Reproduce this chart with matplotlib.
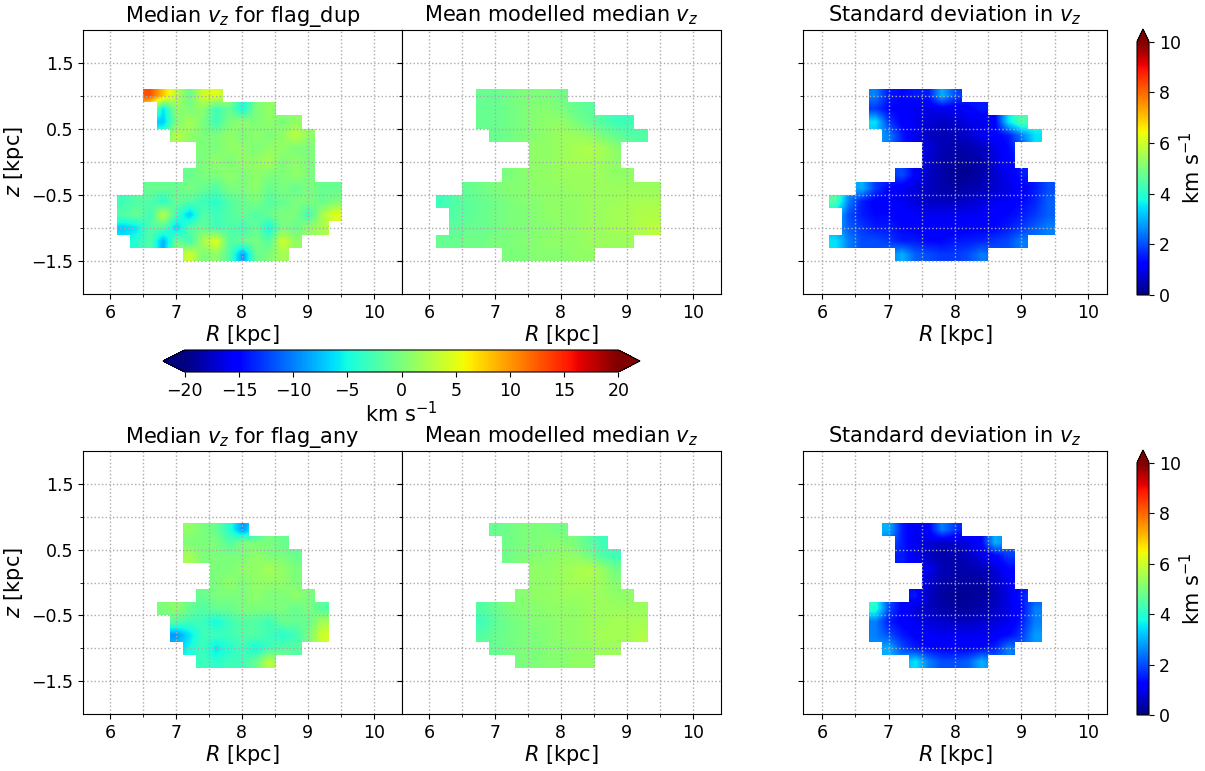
import numpy as np
import matplotlib.pyplot as plt

# bin edges of the (R, z) maps, 0.2 kpc bins
R_edges = np.linspace(6.1, 9.5, 18)
z_edges = np.linspace(-1.5, 1.1, 14)

# each map: rows from top (z = 1.0) to bottom (z = -1.4); (first R bin, values) or None
vz_dup = [
    (2, [13, 8, 3, -1, 4, 5]),
    (3, [-6, 1, 0, 1, -3, -1, -5, 0, 1]),
    (3, [-7, 0, 2, 0, -3, 0, 1, 0, 1, 0, 1]),
    (4, [3, 1, 0, 0, 1, 0, 1, 0, 1, 3, 1]),
    (6, [0, 0, 1, 1, 0, 1, 1, 0, 0]),
    (6, [0, 1, 0, 1, 1, 2, 0, 1, 0]),
    (5, [-1, 0, 0, 1, 0, 1, 0, 0, 1, 0]),
    (2, [-1, -1, -1, 0, -1, -2, 0, 0, 1, -1, 0, -1, 0, -1, -1]),
    (0, [-3, -2, -2, -4, -1, -2, -3, -4, -2, -1, 0, -2, -1, 0, 0, -1, 0]),
    (0, [-2, -1, -3, 3, -3, -7, -2, -3, -2, -1, -2, -1, 0, 0, -3, 2, 5]),
    (0, [-7, -6, -2, -2, -7, -2, -1, -3, -2, -3, -1, -5, 0, -1, 1, 2]),
    (1, [-4, -2, -8, -1, -3, 2, 5, -2, -1, 0, -2, 4, 1]),
    (5, [4, 0, 1, -2, -9, -1, 0, 2]),
]
model_dup = [
    (3, [-1, -1, -0.5, 0, 0, 0, -0.5]),
    (3, [-1, -1, -0.5, 0, 0.5, 0.5, 0, -1, -1.5]),
    (3, [-1, -1, -0.5, 0, 0.5, 1, 1, 0, -1, -2, -3, -3]),
    (4, [-1, -0.5, 0, 0.5, 1, 1.5, 1.5, 1, 0, -1, -2, -2]),
    (7, [1, 1, 1.5, 2, 2.5, 2, 1]),
    (7, [1, 1, 1.5, 2, 2, 1.5, 1]),
    (5, [0, 0.5, 1, 1, 1.5, 1.5, 1.5, 1.5, 1, 1]),
    (2, [-1, -0.5, 0, 0.5, 0.5, 1, 1, 1, 1.5, 1.5, 1.5, 1.5, 1.5, 1.5, 1.5]),
    (0, [-3, -2, -1.5, -1, -0.5, 0, 0.5, 0.5, 1, 1, 1, 1.5, 1.5, 1.5, 2, 2, 2]),
    (1, [-2, -1.5, -1, -0.5, 0, 0, 0.5, 1, 1, 1, 1.5, 1.5, 2, 2, 2.5, 2.5]),
    (1, [-1.5, -1, -1, -0.5, 0, 0, 0.5, 0.5, 1, 1, 1.5, 1.5, 2, 2, 2.5, 3]),
    (0, [-1, -1, -0.5, -0.5, 0, 0, 0.5, 0.5, 1, 1, 1, 1.5, 1.5, 1.5, 1.5]),
    (5, [0, 0, 0.5, 0.5, 0.5, 1, 1]),
]
std_dup = [
    (3, [2.5, 1.5, 1.3, 1.5, 1.5, 3, 2]),
    (3, [1.8, 1.3, 1.2, 1.0, 0.9, 1.0, 1.0, 1.2, 1.5]),
    (3, [3.5, 1.8, 1.2, 1.0, 0.8, 0.6, 0.7, 0.9, 1.0, 1.2, 3.5, 4.5]),
    (4, [2.5, 1.5, 1.0, 0.6, 0.5, 0.5, 0.7, 1.0, 1.2, 1.5, 2.5, 3.5]),
    (7, [0.8, 0.5, 0.4, 0.4, 0.6, 0.9, 1.3]),
    (7, [0.7, 0.4, 0.3, 0.3, 0.4, 0.8, 1.3]),
    (5, [2, 1.2, 0.6, 0.4, 0.2, 0.2, 0.4, 0.7, 1.0, 1.5]),
    (2, [3, 1.8, 1.3, 1.0, 0.8, 0.6, 0.4, 0.3, 0.4, 0.5, 0.7, 0.9, 1.1, 1.5, 2]),
    (0, [4.5, 2.5, 1.5, 1.2, 1.1, 1.0, 0.8, 0.6, 0.6, 0.6, 0.7, 0.8, 1.0, 1.1, 1.3, 1.6, 2.2]),
    (1, [2, 1.5, 1.3, 1.3, 1.2, 1.1, 1.0, 1.0, 1.0, 1.0, 1.1, 1.2, 1.3, 1.5, 1.8, 2.2]),
    (1, [2.2, 1.8, 1.5, 1.5, 1.3, 1.2, 1.2, 1.1, 1.1, 1.2, 1.2, 1.3, 1.5, 1.8, 2.2, 2.5]),
    (0, [3.5, 2.5, 2.0, 2.0, 1.8, 1.5, 1.5, 1.3, 1.3, 1.5, 1.5, 1.6, 1.8, 2.0, 2.5]),
    (5, [3, 2.2, 2.0, 1.8, 1.8, 2.0, 2.5]),
]
vz_any = [
    None,
    (5, [1, 0, -1, -4, -9]),
    (5, [0, 0, 0, -2, 0, 0, 0, -1]),
    (5, [2, 0, 0, 0, 0, 1, 0, 0, -1]),
    (7, [0, 0, 1, 1, 2, 1, 0]),
    (7, [0, 1, 0, 1, 1, 1, 0]),
    (6, [-1, 0, 0, 0, 1, 0, 0, 1, 0]),
    (3, [0, 1, -1, -2, -1, -1, 0, 0, 0, 0, -1, 0, -2]),
    (4, [-2, -3, -3, -5, -3, -2, -2, -3, -1, -1, -1, 2]),
    (4, [-9, -6, -3, -3, -3, -2, -2, -3, -4, -3, 0, 4]),
    (5, [-5, -3, -6, -4, -3, -5, -3, -2, -2]),
    (6, [-3, -4, -3, -3, -1, 3]),
    None,
]
model_any = [
    None,
    (4, [-1, -0.5, 0, 0, 0, -0.5]),
    (5, [-0.5, 0, 0, 0.5, 0.5, 0, -1.5, -3]),
    (5, [-0.5, 0, 0.5, 0.5, 1, 1, 0, -2, -3]),
    (7, [1, 1, 1.5, 2, 2.5, 1.5, -0.5]),
    (7, [1, 1, 1.5, 2, 2, 1.5, 0.5]),
    (6, [0.5, 1, 1, 1.5, 1.5, 1.5, 1.5, 1, 1]),
    (3, [-2, -1, 0, 0.5, 0.5, 1, 1, 1, 1.5, 1.5, 1.5, 1.5, 1.5]),
    (3, [-3, -1.5, -0.5, 0, 0.5, 0.5, 1, 1, 1.5, 1.5, 2, 2, 2]),
    (3, [-2, -1, -0.5, 0, 0, 0.5, 1, 1, 1.5, 2, 2, 2, 2.5]),
    (4, [-1, -0.5, 0, 0, 0.5, 0.5, 1, 1, 1.5, 1.5]),
    (6, [0, 0, 0.5, 0.5, 1, 1]),
    None,
]
std_any = [
    None,
    (4, [3, 1.5, 1.0, 1.2, 2.5, 1.8]),
    (5, [1.5, 1.0, 0.8, 0.6, 0.7, 0.9, 1.3, 3.0]),
    (5, [1.5, 1.0, 0.6, 0.4, 0.4, 0.6, 0.9, 1.2, 1.8]),
    (7, [1.0, 0.5, 0.4, 0.4, 0.5, 0.8, 1.3]),
    (7, [0.7, 0.4, 0.3, 0.3, 0.3, 0.6, 1.0]),
    (6, [1.5, 0.6, 0.3, 0.2, 0.2, 0.3, 0.5, 0.9, 1.5]),
    (3, [4, 2, 1.2, 0.8, 0.6, 0.4, 0.3, 0.3, 0.4, 0.6, 0.9, 1.3, 2.5]),
    (3, [2.5, 1.5, 1.2, 1.0, 0.8, 0.7, 0.6, 0.6, 0.7, 0.8, 1.0, 1.5, 2.5]),
    (3, [2.5, 2.0, 1.5, 1.2, 1.1, 1.0, 1.0, 1.0, 1.0, 1.1, 1.3, 1.8, 2.8]),
    (4, [3, 2.0, 1.5, 1.3, 1.2, 1.2, 1.2, 1.3, 1.6, 2.5]),
    (6, [3.5, 2.5, 2.0, 2.0, 2.2, 3.0]),
    None,
]

titles = ['Median $v_z$ for flag_dup', 'Mean modelled median $v_z$',
          'Standard deviation in $v_z$', 'Median $v_z$ for flag_any',
          'Mean modelled median $v_z$', 'Standard deviation in $v_z$']


def to_grid(rows):
    g = np.full((len(z_edges) - 1, len(R_edges) - 1), np.nan)
    for i, row in enumerate(rows):
        if row is None:
            continue
        j0, vals = row
        g[i, j0:j0 + len(vals)] = vals
    return g


def fill_empty(g):
    # pad empty bins with their neighbours so the smoothing has no holes
    f = g.copy()
    while np.isnan(f).any():
        p = np.pad(f, 1, constant_values=np.nan)
        nb = np.stack([p[:-2, 1:-1], p[2:, 1:-1], p[1:-1, :-2], p[1:-1, 2:]])
        cnt = (~np.isnan(nb)).sum(0)
        mean = np.nansum(nb, 0) / np.maximum(cnt, 1)
        upd = np.isnan(f) & (cnt > 0)
        f[upd] = mean[upd]
    return f


def draw_map(ax, rows, vmin, vmax):
    g = to_grid(rows)
    ext = (R_edges[0], R_edges[-1], z_edges[0], z_edges[-1])
    im = ax.imshow(fill_empty(g), cmap='jet', vmin=vmin, vmax=vmax, extent=ext,
                   origin='upper', interpolation='bilinear', aspect='auto', zorder=0)
    cover = np.zeros(g.shape + (4,))
    cover[np.isnan(g)] = (1, 1, 1, 1)
    ax.imshow(cover, extent=ext, origin='upper', interpolation='nearest',
              aspect='auto', zorder=0.5)
    return im


def style(ax, xlim, left=False):
    ax.set_xlim(*xlim)
    ax.set_ylim(-2, 2)
    ax.set_xticks([6, 7, 8, 9, 10])
    ax.set_xticks([6.5, 7.5, 8.5, 9.5], minor=True)
    ax.set_yticks([-1.5, -0.5, 0.5, 1.5])
    ax.set_yticks([-1, 0, 1], minor=True)
    ax.grid(True, which='both', ls=':', color='#aaaaaa', lw=1)
    ax.tick_params(labelsize=12.5)
    ax.tick_params(labelleft=left)
    ax.set_xlabel('$R$ [kpc]', fontsize=15, labelpad=1)
    if left:
        ax.set_ylabel('$z$ [kpc]', fontsize=15)


W, H = 1205, 771
fig = plt.figure(figsize=(W / 100, H / 100), dpi=100)


def box(x0, y0, x1, y1):
    return [x0 / W, 1 - y1 / H, (x1 - x0) / W, (y1 - y0) / H]


maps = [vz_dup, model_dup, std_dup, vz_any, model_any, std_any]
rows_y = [(30, 294), (451, 714)]
for r, (y0, y1) in enumerate(rows_y):
    a1 = fig.add_axes(box(83, y0, 402, y1))
    a2 = fig.add_axes(box(402, y0, 721, y1))
    a3 = fig.add_axes(box(803, y0, 1107, y1))
    for k, ax in enumerate([a1, a2, a3]):
        data = maps[3 * r + k]
        if k < 2:
            im = draw_map(ax, data, -20, 20)
            style(ax, (5.59, 10.43), left=(k == 0))
        else:
            im_s = draw_map(ax, data, 0, 10)
            style(ax, (5.71, 10.29))
        ax.set_title(titles[3 * r + k], fontsize=15)
    if r == 0:
        im_v = im
    cax = fig.add_axes(box(1137, y0 - 1, 1149, y1 + 1))
    cb = fig.colorbar(im_s, cax=cax, extend='max', ticks=range(0, 11, 2))
    cb.ax.tick_params(labelsize=12.5)
    cb.set_label('km s$^{-1}$', fontsize=15, labelpad=-1)

hax = fig.add_axes(box(163, 350, 640, 372))
hcb = fig.colorbar(im_v, cax=hax, orientation='horizontal', extend='both',
                   ticks=range(-20, 21, 5))
hcb.ax.tick_params(labelsize=12.5)
hcb.set_label('km s$^{-1}$', fontsize=15, labelpad=1)

fig.savefig('out.png', dpi=100)
